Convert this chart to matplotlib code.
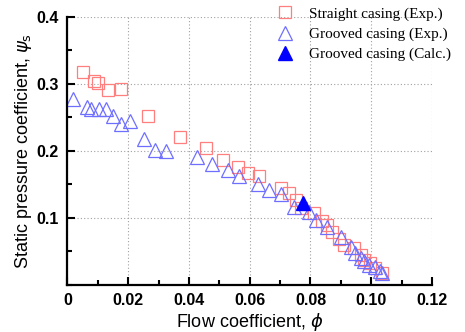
import numpy as np
import matplotlib
matplotlib.use("Agg")
import matplotlib.pyplot as plt
from matplotlib.ticker import MultipleLocator, FixedLocator, FixedFormatter

# Straight casing (Exp.)
straight_phi = [0.0052, 0.0087, 0.0101, 0.0133, 0.0175, 0.0265, 0.0369, 0.0456,
                0.0511, 0.0563, 0.0595, 0.0631, 0.0702, 0.0730, 0.0751, 0.0768,
                0.0811, 0.0838, 0.0855, 0.0871, 0.0893, 0.0910, 0.0943, 0.0965,
                0.0975, 0.0997, 0.1014, 0.1035]
straight_psi = [0.318, 0.305, 0.302, 0.291, 0.292, 0.252, 0.221, 0.204,
                0.187, 0.176, 0.167, 0.163, 0.144, 0.137, 0.126, 0.114,
                0.107, 0.095, 0.089, 0.079, 0.069, 0.059, 0.055, 0.045,
                0.037, 0.032, 0.025, 0.017]

# Grooved casing (Exp.)
grooved_phi = [0.0019, 0.0063, 0.0079, 0.0104, 0.0128, 0.0150, 0.0175, 0.0205,
               0.0252, 0.0287, 0.0323, 0.0426, 0.0477, 0.0530, 0.0566, 0.0626,
               0.0664, 0.0702, 0.0746, 0.0795, 0.0819, 0.0855, 0.0899, 0.0932,
               0.0948, 0.0965, 0.0975, 0.0992, 0.1014, 0.1030, 0.1035]
grooved_psi = [0.277, 0.265, 0.263, 0.262, 0.262, 0.252, 0.240, 0.245,
               0.218, 0.202, 0.200, 0.191, 0.180, 0.172, 0.162, 0.151,
               0.141, 0.136, 0.116, 0.109, 0.097, 0.087, 0.072, 0.057,
               0.047, 0.040, 0.035, 0.030, 0.027, 0.020, 0.017]

# Grooved casing (Calc.)
calc_phi = [0.0775]
calc_psi = [0.122]

x_ticks = [0, 0.02, 0.04, 0.06, 0.08, 0.10, 0.12]
x_labels = ["0", "0.02", "0.04", "0.06", "0.08", "0.10", "0.12"]
y_ticks = [0.1, 0.2, 0.3, 0.4]
y_labels = ["0.1", "0.2", "0.3", "0.4"]

fig = plt.figure(figsize=(4.65, 3.32), dpi=100)
ax = fig.add_axes([0.145, 0.142, 0.784, 0.807])

ax.plot(straight_phi, straight_psi, ls="none", marker="s", ms=9, mfc="none",
        mec="#ff7f7f", mew=0.9, label="Straight casing (Exp.)")
ax.plot(grooved_phi, grooved_psi, ls="none", marker="^", ms=10.5, mfc="none",
        mec="#6f6fff", mew=0.9, label="Grooved casing (Exp.)")
ax.plot(calc_phi, calc_psi, ls="none", marker="^", ms=10.5, mfc="#0000ff",
        mec="#0000ff", label="Grooved casing (Calc.)")

ax.set_xlim(0, 0.12)
ax.set_ylim(0, 0.4)
ax.xaxis.set_major_locator(FixedLocator(x_ticks))
ax.xaxis.set_major_formatter(FixedFormatter(x_labels))
ax.xaxis.set_minor_locator(MultipleLocator(0.01))
ax.yaxis.set_major_locator(FixedLocator(y_ticks))
ax.yaxis.set_major_formatter(FixedFormatter(y_labels))
ax.yaxis.set_minor_locator(MultipleLocator(0.05))

ax.grid(True, which="major", ls=(0, (1, 2)), color="#a0a0a0", lw=0.8)
ax.set_axisbelow(True)

for s in ["top", "right"]:
    ax.spines[s].set_visible(False)
for s in ["left", "bottom"]:
    ax.spines[s].set_linewidth(1.6)

ax.tick_params(which="major", direction="in", length=6, width=1.5, pad=6)
ax.tick_params(which="minor", direction="in", length=3.5, width=1.5)
for lab in ax.get_xticklabels() + ax.get_yticklabels():
    lab.set_fontfamily("Liberation Sans")
    lab.set_fontweight("bold")
    lab.set_fontsize(11.5)

ax.set_xlabel(r"Flow coefficient, $\phi$", family="Liberation Sans", fontsize=13, labelpad=2)
ax.set_ylabel(r"Static pressure coefficient, $\psi_{\rm s}$", family="Liberation Sans",
              fontsize=13, labelpad=2)

leg = ax.legend(loc="upper right", bbox_to_anchor=(1.07, 1.06), frameon=False,
                prop={"family": "Liberation Serif", "size": 11},
                handletextpad=0.6, labelspacing=0.42, borderaxespad=0)

fig.savefig("out.png", dpi=100)
